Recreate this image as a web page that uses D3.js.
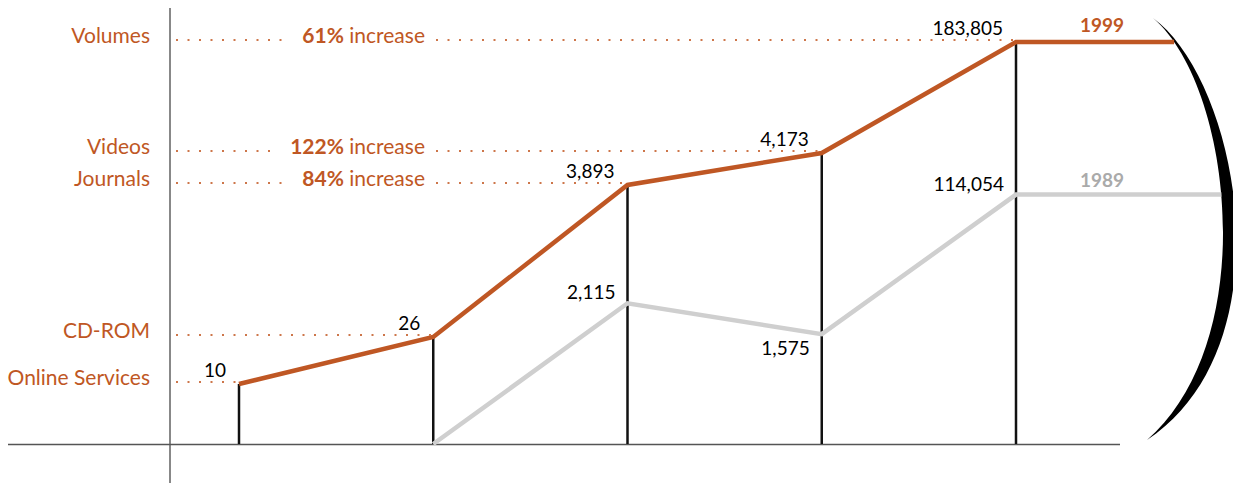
<!DOCTYPE html>
<html><head><meta charset="utf-8">
<script src="https://cdn.jsdelivr.net/npm/d3@7"></script>
<style>
body{margin:0;background:#fff}
svg{display:block}
text{font-family:Lato,"Open Sans",sans-serif}
</style>
</head><body>
<svg id="c" width="1233" height="483"></svg>
<script>
// ---- data ----
const categories = ["Online Services", "CD-ROM", "Journals", "Videos", "Volumes"];
const values1999 = [10, 26, 3893, 4173, 183805];
const values1989 = [null, 0, 2115, 1575, 114054];
const increaseLabels = [null, null, "84%", "122%", "61%"];
const seriesNames = ["1999", "1989"];

// ---- layout / style ----
const W = 1233, H = 483;
const orange = "#bf5724", grayLine = "#cfcfcf", grayText = "#aaaaaa", dotColor = "#cd764a";
const baseY = 444, axisX = 170;
const svg = d3.select("#c");

const x = d3.scalePoint().domain(categories).range([239, 1016]);
// non-uniform (broken) vertical scale for the 1999 series
const y = d3.scaleLinear()
  .domain([0].concat(values1999))
  .range([444, 384, 337, 185, 153, 42]);
// 1989 drawn proportionally to the 1999 bar of the same category
const y89 = i => baseY - (values1989[i] / values1999[i]) * (baseY - y(values1999[i]));

// axes
svg.append("line").attr("x1", axisX).attr("x2", axisX).attr("y1", 8).attr("y2", H)
  .attr("stroke", "#888").attr("stroke-width", 2);
svg.append("line").attr("x1", 8).attr("x2", 1120).attr("y1", baseY + 0.5).attr("y2", baseY + 0.5)
  .attr("stroke", "#555").attr("stroke-width", 1.5);

// crescent
const innerD = "M1153,18 C1232,85 1262,340 1147,440";
svg.append("path")
  .attr("d", innerD + " C1290,345 1238,80 1153,18 Z")
  .attr("fill", "#000");
const innerPath = svg.append("path").attr("d", innerD).attr("fill", "none").attr("stroke", "none");
const ip = innerPath.node(), L = ip.getTotalLength();
function arcX(yy) {
  let best = null, bd = 1e9;
  for (let s = 0; s <= L * 0.6; s += 0.5) {
    const p = ip.getPointAtLength(s);
    const d = Math.abs(p.y - yy);
    if (d < bd) { bd = d; best = p; }
  }
  return best.x;
}

// drop lines
svg.append("g").selectAll("line").data(categories).join("line")
  .attr("x1", d => x(d)).attr("x2", d => x(d))
  .attr("y1", (d, i) => y(values1999[i])).attr("y2", baseY)
  .attr("stroke", "#111").attr("stroke-width", 2.5);

const line = d3.line().x(d => d[0]).y(d => d[1]);

// 1989 line
const pts89 = [];
values1989.forEach((v, i) => { if (v !== null) pts89.push([x(categories[i]), y89(i)]); });
const last89 = pts89[pts89.length - 1];
pts89.push([arcX(last89[1]), last89[1]]);
svg.append("path").attr("d", line(pts89)).attr("fill", "none")
  .attr("stroke", grayLine).attr("stroke-width", 4.5).attr("stroke-linejoin", "miter");

// 1999 line
const pts99 = values1999.map((v, i) => [x(categories[i]), y(v)]);
const last99 = pts99[pts99.length - 1];
pts99.push([arcX(last99[1]), last99[1]]);
svg.append("path").attr("d", line(pts99)).attr("fill", "none")
  .attr("stroke", orange).attr("stroke-width", 4.5).attr("stroke-linejoin", "miter");

// category labels, increase labels and dotted leaders
const fs = 19, fsCat = 21;
function dots(x1, x2, yy) {
  svg.append("line").attr("x1", x1).attr("x2", x2).attr("y1", yy).attr("y2", yy)
    .attr("stroke", dotColor).attr("stroke-width", 2).attr("stroke-dasharray", "2 9.5");
}
categories.forEach((c, i) => {
  const py = y(values1999[i]);
  const dotY = py - 2;
  svg.append("text").attr("x", 150).attr("y", dotY + 3).attr("text-anchor", "end")
    .attr("font-size", fsCat).attr("fill", orange).text(c);
  if (increaseLabels[i]) {
    const t = svg.append("text").attr("x", 425).attr("y", dotY + 3).attr("text-anchor", "end")
      .attr("font-size", fsCat).attr("fill", orange);
    t.append("tspan").attr("font-weight", "bold").text(increaseLabels[i]);
    t.append("tspan").text(" increase");
    const bb = t.node().getBBox();
    dots(176, bb.x - 18, dotY);
    dots(436, x(c) - 2, dotY);
  } else {
    dots(176, x(c) - 2, dotY);
  }
});

// value labels
const fmt = d3.format(",");
values1999.forEach((v, i) => {
  svg.append("text").attr("x", x(categories[i]) - 13).attr("y", y(v) - 7)
    .attr("text-anchor", "end").attr("font-size", fs).attr("fill", "#000").text(fmt(v));
});
values1989.forEach((v, i) => {
  if (!v) return;
  const prev = values1989[i - 1];
  const below = prev !== null && v < prev;
  svg.append("text").attr("x", x(categories[i]) - 12).attr("y", y89(i) + (below ? 21 : -4))
    .attr("text-anchor", "end").attr("font-size", fs).attr("fill", "#000").text(fmt(v));
});

// series labels
const lastX = x(categories[categories.length - 1]);
svg.append("text").attr("x", lastX + 86).attr("y", last99[1] - 10).attr("text-anchor", "middle")
  .attr("font-size", fs).attr("font-weight", "bold").attr("fill", orange).text(seriesNames[0]);
svg.append("text").attr("x", lastX + 86).attr("y", last89[1] - 8).attr("text-anchor", "middle")
  .attr("font-size", fs).attr("font-weight", "bold").attr("fill", grayText).text(seriesNames[1]);
</script>
</body></html>
